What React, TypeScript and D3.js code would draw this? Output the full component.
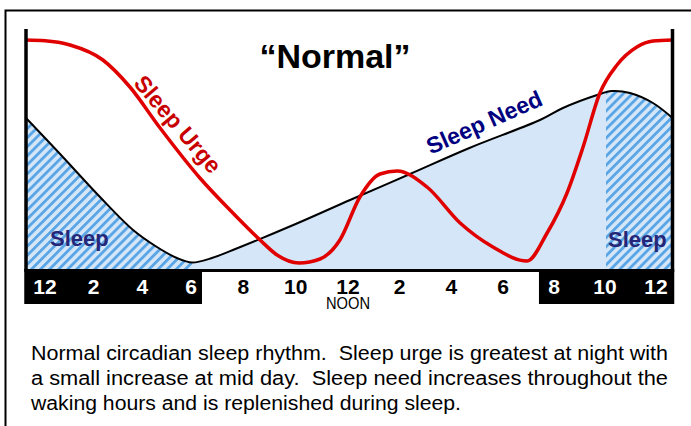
import React from "react";
import * as d3 from "d3";

// ---- data (hours of day, arbitrary level units) ----
const needHours = [-0.75, 0.62, 2.26, 3.62, 4.6, 5.42, 6.04, 6.8, 7.6, 10.0, 12.08, 14.4, 16.7, 19.45, 20.35, 21.69, 22.27, 22.98, 23.88, 24.63];
const needLevel = [151, 115, 72, 39, 22, 11, 6.5, 11, 19, 45, 69, 95, 121, 149, 161, 174, 178, 176, 166, 151];

const urgeHours = [-0.75, 0, 1.03, 2.38, 3.49, 4.73, 6.34, 7.6, 8.64, 9.29, 10.13, 10.93, 11.69, 12.46, 13.24, 13.9, 15.06, 16.34, 17.61, 18.94, 19.73, 20.51, 21.14, 21.8, 22.47, 23.25, 23.88, 24.63];
const urgeLevel = [229, 228.3, 224, 209, 182, 141, 91, 56, 29, 14, 6, 10, 29, 72, 95, 98, 82, 46, 22, 8, 36, 76, 122, 176, 204, 222, 228, 229];

const tickHours = [0, 2, 4, 6, 8, 10, 12, 14, 16, 18, 20, 22, 24];
const tickLabels = ["12", "2", "4", "6", "8", "10", "12", "2", "4", "6", "8", "10", "12"];

const nightBands = [[-0.75, 6.42], [19.41, 24.63]];
const sleepSpans = [[-0.75, 6.04], [22.04, 24.63]];

const captionLines = [
  "Normal circadian sleep rhythm.  Sleep urge is greatest at night with",
  "a small increase at mid day.  Sleep need increases throughout the",
  "waking hours and is replenished during sleep.",
];
const captionWidths = [637, 637, 430];

export default function App() {
  const W = 691, H = 426;
  const x = d3.scaleLinear()
    .domain([-0.75, 0, 6, 12, 18, 24, 24.63])
    .range([26, 45, 191, 348, 503, 656, 672.5]);
  const y = d3.scaleLinear().domain([0, 240]).range([269, 29]);

  const need = needHours.map((h, i) => [h, needLevel[i]] as [number, number]);
  const urge = urgeHours.map((h, i) => [h, urgeLevel[i]] as [number, number]);

  const area = d3.area<[number, number]>()
    .x(d => x(d[0])).y0(y(0)).y1(d => y(d[1]))
    .curve(d3.curveCatmullRom.alpha(0.5));
  const needLine = d3.line<[number, number]>()
    .x(d => x(d[0])).y(d => y(d[1]))
    .curve(d3.curveCatmullRom.alpha(0.5));
  const urgeLine = d3.line<[number, number]>()
    .x(d => x(d[0])).y(d => y(d[1]))
    .curve(d3.curveMonotoneX);

  const font = "'Liberation Sans', Arial, Helvetica, sans-serif";
  const narrow = "'Liberation Sans Narrow', 'Arial Narrow', 'Liberation Sans', Arial, sans-serif";
  const bandTop = 269, bandBottom = 304;

  const inBand = (h: number) => nightBands.some(b => h >= b[0] && h <= b[1]);

  return (
    <svg width={W} height={H} style={{ position: "absolute", left: 0, top: 0, background: "#fff" }}>
      <defs>
        <pattern id="hatch" patternUnits="userSpaceOnUse" width={6.4} height={10} patternTransform="rotate(45)">
          <rect x={0} y={0} width={2.8} height={10} fill="#5aa5e6" />
        </pattern>
        <clipPath id="sleepClip">
          {sleepSpans.map((s, i) => (
            <rect key={i} x={x(s[0])} y={0} width={x(s[1]) - x(s[0])} height={bandTop} />
          ))}
        </clipPath>
      </defs>

      {/* frame */}
      <path d={`M5.5,${H + 5} L5.5,10.5 L${W + 5},10.5`} fill="none" stroke="#000" strokeWidth={2} />

      {/* sleep need fill */}
      <path d={area(need) || ""} fill="#d4e6f7" />
      <path d={area(need) || ""} fill="url(#hatch)" clipPath="url(#sleepClip)" />

      {/* sleep need line */}
      <path d={needLine(need) || ""} fill="none" stroke="#000" strokeWidth={2} />

      {/* sleep urge line */}
      <path d={urgeLine(urge) || ""} fill="none" stroke="#e00000" strokeWidth={3.5} strokeLinejoin="round" />

      {/* title */}
      <text x={335} y={68} textAnchor="middle" fontFamily={font} fontWeight="bold" fontSize={34} fill="#000">
        “Normal”
      </text>

      {/* curve labels */}
      <text transform="translate(178,124) rotate(49.5)" textAnchor="middle" dy="0.36em"
        fontFamily={font} fontWeight="bold" fontSize={23} fill="#c80000">Sleep Urge</text>
      <text transform="translate(484,122) rotate(-23.9)" textAnchor="middle" dy="0.36em"
        fontFamily={font} fontWeight="bold" fontSize={23} fill="#000080">Sleep Need</text>
      <text x={50} y={246} fontFamily={font} fontWeight="bold" fontSize={22} fill="#262678">Sleep</text>
      <text x={608} y={247} fontFamily={font} fontWeight="bold" fontSize={22} fill="#262678">Sleep</text>

      {/* axes */}
      <line x1={x(-0.75)} x2={x(-0.75)} y1={29} y2={bandTop} stroke="#000" strokeWidth={3.5} />
      <line x1={x(24.63)} x2={x(24.63)} y1={29} y2={bandTop} stroke="#000" strokeWidth={3.5} />
      <rect x={x(-0.75) - 1.75} y={bandTop} width={x(24.63) - x(-0.75) + 3.5} height={3} fill="#000" />
      {nightBands.map((b, i) => (
        <rect key={i} x={x(b[0]) - (i === 0 ? 1.75 : 0)} y={bandTop} width={x(b[1]) - x(b[0]) + 1.75}
          height={bandBottom - bandTop} fill="#000" />
      ))}

      {/* tick labels */}
      {tickHours.map((h, i) => (
        <text key={i} x={x(h)} y={294} textAnchor="middle" fontFamily={font} fontWeight="bold"
          fontSize={21} fill={inBand(h) ? "#fff" : "#000"}>{tickLabels[i]}</text>
      ))}
      <text x={x(12)} y={309} textAnchor="middle" fontFamily={narrow} fontSize={16} fill="#000"
        textLength={44} lengthAdjust="spacingAndGlyphs">NOON</text>

      {/* caption */}
      {captionLines.map((t, i) => (
        <text key={i} x={31} y={360 + i * 25} fontFamily={narrow} fontSize={19.5} fill="#000"
          style={{ whiteSpace: "pre" }} textLength={captionWidths[i]} lengthAdjust="spacingAndGlyphs">{t}</text>
      ))}
    </svg>
  );
}
